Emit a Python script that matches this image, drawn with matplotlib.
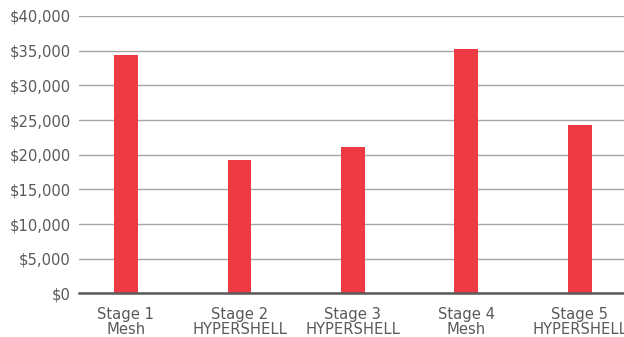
import matplotlib
matplotlib.use("Agg")
import matplotlib.pyplot as plt
from matplotlib.ticker import FuncFormatter

stages = ["Stage 1", "Stage 2", "Stage 3", "Stage 4", "Stage 5"]
types = ["Mesh", "HYPERSHELL", "HYPERSHELL", "Mesh", "HYPERSHELL"]
values = [34400, 19200, 21100, 35250, 24300]
yticks = [0, 5000, 10000, 15000, 20000, 25000, 30000, 35000, 40000]

plt.rcParams['font.family'] = ['DejaVu Sans']
text_color = "#595959"

fig = plt.figure(figsize=(6.24, 3.37), dpi=100)
W, H = 624, 337
ax = fig.add_axes([79 / W, (H - 293.4) / H, (624 - 79) / W, (293.4 - 16) / H])

x = list(range(len(stages)))
ax.bar(x, values, width=0.211, color="#EE3A43", zorder=3)

ax.set_ylim(0, 40000)
ax.set_xlim(-0.414, 4.388)
ax.set_yticks(yticks)
ax.yaxis.set_major_formatter(FuncFormatter(lambda v, p: f"${int(v):,}"))
ax.grid(axis="y", color="#A6A6A6", linewidth=1.0, zorder=0)
ax.set_axisbelow(True)

ax.set_xticks(x)
ax.set_xticklabels([f"{s}\n{t}" for s, t in zip(stages, types)], linespacing=1.0)

for sp in ["top", "right", "left"]:
    ax.spines[sp].set_visible(False)
ax.spines["bottom"].set_color("#595959")
ax.spines["bottom"].set_linewidth(1.8)
ax.spines["bottom"].set_zorder(4)

ax.tick_params(axis="both", length=0, colors=text_color, labelsize=10.6)
ax.tick_params(axis="y", pad=6)
ax.tick_params(axis="x", pad=10)

fig.savefig("out.png", dpi=100)
